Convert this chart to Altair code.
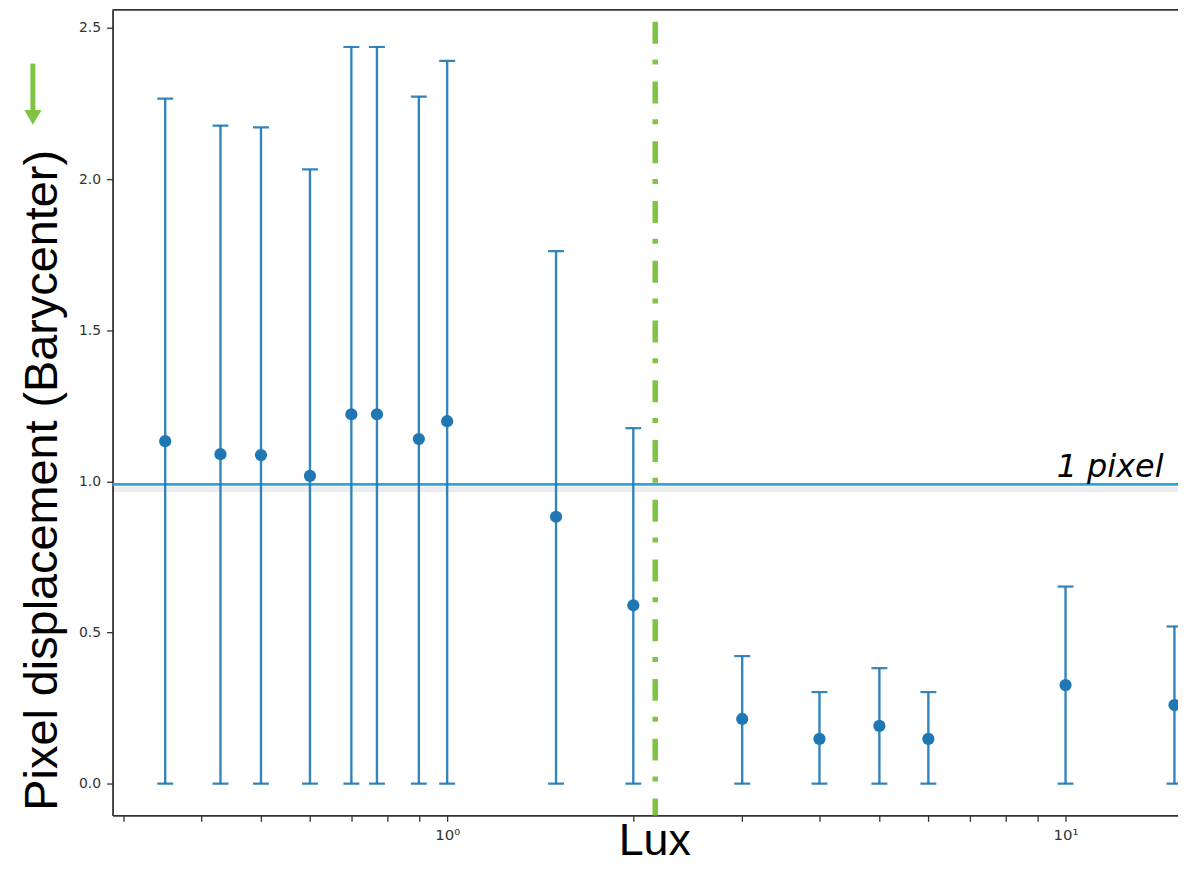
import altair as alt
import pandas as pd

# ---- data ----
lux = [0.35, 0.43, 0.5, 0.6, 0.7, 0.77, 0.9, 1.0, 1.5, 2.0, 3.0, 4.0, 5.0, 6.0, 10.0, 15.0]
mean_disp = [1.133, 1.090, 1.087, 1.018, 1.222, 1.222, 1.140, 1.199,
             0.883, 0.590, 0.214, 0.148, 0.191, 0.148, 0.326, 0.260]
upper = [2.266, 2.177, 2.171, 2.032, 2.437, 2.437, 2.273, 2.391,
         1.762, 1.176, 0.422, 0.303, 0.382, 0.303, 0.652, 0.520]
lower = [0.0, 0.0, 0.0, 0.0, 0.0, 0.0, 0.0, 0.0,
         0.0, 0.0, 0.0, 0.0, 0.0, 0.0, 0.0, 0.0]

threshold_lux = [2.17]
one_pixel = [0.99]
one_pixel_label = ["1 pixel"]
label_lux = [14.4]
label_y = [1.015]

x_tick_values = [0.3, 0.4, 0.5, 0.6, 0.7, 0.8, 0.9, 1, 2, 3, 4, 5, 6, 7, 8, 9, 10]
y_tick_values = [0.0, 0.5, 1.0, 1.5, 2.0, 2.5]
x_domain = [0.2877, 15.2]
y_domain = [-0.105, 2.56]

W, H = 1070, 809
BLUE = "#1f77b4"
GREEN = "#80c444"
AX = "#333333"

df = pd.DataFrame({"lux": lux, "mean": mean_disp, "upper": upper, "lower": lower})
thr = pd.DataFrame({"lux": threshold_lux})
hl = pd.DataFrame({"y": one_pixel})
lab = pd.DataFrame({"lux": label_lux, "y": label_y, "text": one_pixel_label})
one = pd.DataFrame({"a": [0]})

xscale = alt.Scale(type="log", domain=x_domain, nice=False)
yscale = alt.Scale(domain=y_domain, nice=False, zero=False)

xaxis = alt.Axis(
    values=x_tick_values,
    labelExpr="datum.value == 1 ? '10\u2070' : (datum.value == 10 ? '10\u00b9' : '')",
    tickSize=6, tickColor=AX, tickWidth=1.3,
    labelFont="DejaVu Sans", labelFontSize=15, labelColor=AX, labelPadding=6,
    domain=True, domainColor=AX, domainWidth=1.8, grid=False,
    titleFont="Liberation Sans", titleFontSize=45, titleFontWeight="normal",
    titleColor="black", titleX=544, titleY=39, titleBaseline="alphabetic",
    titleAlign="center", labelFlush=False, labelOverlap=False,
)
yaxis = alt.Axis(
    values=y_tick_values, format=".1f",
    tickSize=6, tickColor=AX, tickWidth=1.3,
    labelFont="DejaVu Sans", labelFontSize=14, labelColor=AX, labelPadding=6,
    domain=True, domainColor=AX, domainWidth=1.8, grid=False,
    titleFont="Liberation Sans", titleFontSize=47, titleFontWeight="normal",
    titleColor="black", titleAngle=-90, titleX=-56, titleY=472,
    titleBaseline="alphabetic", titleAlign="center",
)

XT = "Lux"
YT = "Pixel displacement (Barycenter)"


def X(field):
    return alt.X(field, type="quantitative", scale=xscale, axis=xaxis, title=XT)


def Y(field):
    return alt.Y(field, type="quantitative", scale=yscale, axis=yaxis, title=YT)


# horizontal "1 pixel" line with soft shadow
shadow = alt.Chart(hl).mark_rule(color="#000000", opacity=0.07, strokeWidth=6, yOffset=5).encode(
    y=Y("y"))
hline = alt.Chart(hl).mark_rule(color="#2ea3dc", strokeWidth=2.6).encode(y=Y("y"))

bars = alt.Chart(df).mark_rule(color=BLUE, strokeWidth=2.4, opacity=0.9, clip=True).encode(
    x=X("lux"), y=Y("lower"), y2="upper")
cap_hi = alt.Chart(df).mark_tick(color=BLUE, orient="horizontal", size=16, thickness=2.2,
                                 clip=True, opacity=0.9).encode(x=X("lux"), y=Y("upper"))
cap_lo = alt.Chart(df).mark_tick(color=BLUE, orient="horizontal", size=16, thickness=2.2,
                                 clip=True, opacity=0.9).encode(x=X("lux"), y=Y("lower"))
pts = alt.Chart(df).mark_circle(color=BLUE, size=150, opacity=1, clip=True).encode(
    x=X("lux"), y=Y("mean"))

vline = alt.Chart(thr).mark_rule(color=GREEN, strokeWidth=5.5,
                                 strokeDash=[22, 16, 5, 17], strokeDashOffset=48).encode(
    x=X("lux"), y=alt.value(0), y2=alt.value(H))

label = alt.Chart(lab).mark_text(font="DejaVu Sans", fontStyle="italic", fontSize=32,
                                 align="right", baseline="alphabetic", color="black").encode(
    x=X("lux"), y=Y("y"), text="text:N")

top_spine = alt.Chart(one).mark_rule(color=AX, strokeWidth=1.8).encode(
    x=alt.value(0), x2=alt.value(W), y=alt.value(0))

arrow_shaft = alt.Chart(one).mark_rule(color=GREEN, strokeWidth=5).encode(
    x=alt.value(-80), y=alt.value(54), y2=alt.value(102))
arrow_head = alt.Chart(one).mark_point(shape="triangle-down", filled=True, color=GREEN,
                                       size=300, opacity=1).encode(
    x=alt.value(-80), y=alt.value(108))

chart = alt.layer(
    shadow, hline, bars, cap_hi, cap_lo, pts, vline, label, top_spine, arrow_shaft, arrow_head
).properties(
    width=W, height=H,
    autosize=alt.AutoSizeParams(type="none"),
    padding={"left": 105, "top": 0, "right": 0, "bottom": 50},
    background="white",
).configure_view(stroke=None)

chart.save("out.html", embed_options={"renderer": "svg", "actions": False})
